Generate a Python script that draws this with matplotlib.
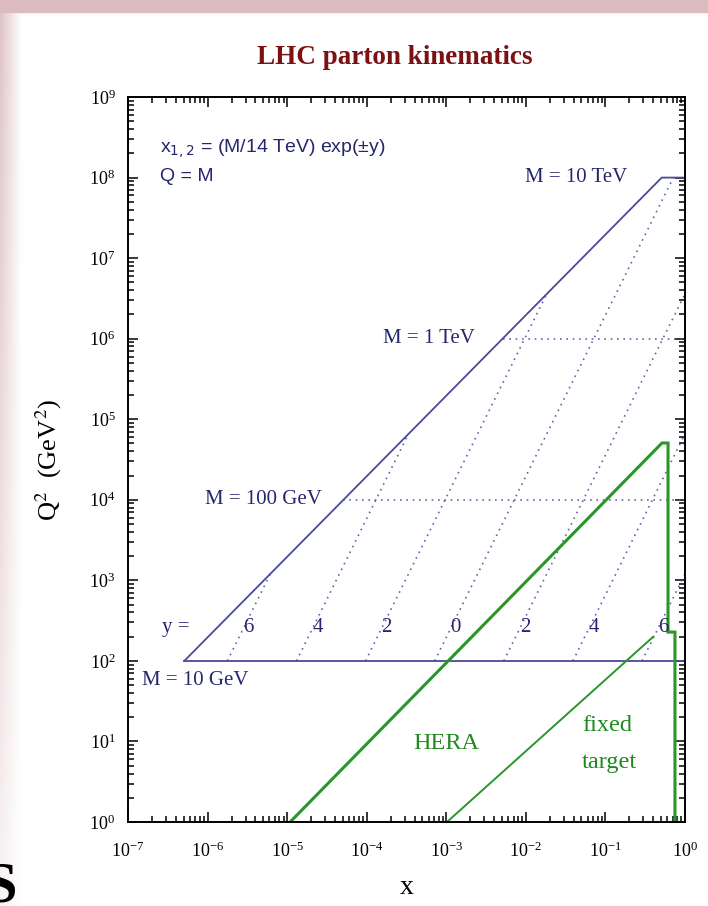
import numpy as np
import matplotlib
matplotlib.use("Agg")
import matplotlib.pyplot as plt
from matplotlib.patches import Rectangle
from matplotlib.ticker import LogLocator, NullFormatter


# ==========================================================
# DATA
# ==========================================================

# LHC (14 TeV) kinematic edge: Q^2 = x s, capped at M = 10 TeV
lhc_edge_x = [5.1e-7, 0.51, 1.0]
lhc_edge_q2 = [1e2, 1e8, 1e8]

# fixed-mass lines (M = 10 GeV solid, 100 GeV / 1 TeV dotted)
mass_q2 = [1e2, 1e4, 1e6]
mass_xmin = [5.1e-7, 5.1e-5, 5.1e-3]
mass_labels = ["M = 10 GeV", "M = 100 GeV", "M = 1 TeV", "M = 10 TeV"]

# rapidity lines, start at M = 10 GeV, end at the kinematic edge
rap_labels = ["6", "4", "2", "0", "2", "4", "6"]
rap_x0 = [1.77e-6, 1.31e-5, 9.67e-5, 7.14e-4, 5.28e-3, 3.90e-2, 0.288]
rap_q0 = [1e2, 1e2, 1e2, 1e2, 1e2, 1e2, 1e2]
rap_x1 = [6.14e-6, 3.35e-4, 1.83e-2, 0.714, 1.0, 1.0, 1.0]
rap_q1 = [1.2e3, 6.6e4, 3.6e6, 1e8, 3.6e6, 6.6e4, 1.2e3]

# HERA region outline
hera_x = [1.09e-5, 0.514, 0.612, 0.612, 0.748, 0.748]
hera_q2 = [1.0, 5.07e4, 5.07e4, 228, 228, 1.0]

# fixed target line
ft_x = [1.02e-3, 0.40]
ft_q2 = [1.0, 200]

NAVY = "#4a4a9c"
NAVY_TXT = "#26266e"
GREEN = "#2a962a"
GREEN_TXT = "#1f8a1f"
TITLE_RED = "#7b1113"

plt.rcParams["font.family"] = ["Liberation Serif", "DejaVu Serif"]
plt.rcParams["mathtext.fontset"] = "stix"


def label_x(i, q2=10 ** 2.41):
    # x position of rapidity line i at a given Q^2
    lx0, lx1 = np.log10(rap_x0[i]), np.log10(rap_x1[i])
    lq0, lq1 = np.log10(rap_q0[i]), np.log10(rap_q1[i])
    return 10 ** (lx0 + (np.log10(q2) - lq0) * (lx1 - lx0) / (lq1 - lq0))


def main():
    fig = plt.figure(figsize=(7.08, 9.06), dpi=100)

    # slide decoration: pink top band and fading left strip
    fig.patches.append(Rectangle((0, 0.987), 1, 0.013, transform=fig.transFigure,
                                 color="#dcbcbf", zorder=0))
    strip = fig.add_axes([0, 0, 0.03, 0.987], zorder=0)
    grad = np.linspace(0, 1, 60)[None, :] * np.ones((100, 1))
    fade = np.linspace(0.9, 0.2, 100)[:, None]
    rgb = np.ones((100, 60, 3))
    pink = np.array([0.86, 0.74, 0.75])
    a = ((1 - grad) * fade)[..., None]
    rgb = rgb * (1 - a) + pink * a
    strip.imshow(rgb, aspect="auto", extent=[0, 1, 0, 1])
    strip.axis("off")
    fig.text(-0.022, -0.008, "S", fontsize=42, color="black", fontweight="bold",
             ha="left", va="bottom")

    ax = fig.add_axes([0.1808, 0.0927, 0.7867, 0.8002])
    ax.set_xscale("log")
    ax.set_yscale("log")
    ax.set_xlim(1e-7, 1)
    ax.set_ylim(1, 1e9)

    # LHC lines
    ax.plot(lhc_edge_x, lhc_edge_q2, color=NAVY, lw=1.3)
    ax.plot([mass_xmin[0], 1.0], [mass_q2[0]] * 2, color=NAVY, lw=1.3)
    for xm, q in zip(mass_xmin[1:], mass_q2[1:]):
        ax.plot([xm, 1.0], [q, q], color=NAVY, lw=1.2, ls=(0, (1, 2.8)), alpha=0.85)
    for i in range(len(rap_labels)):
        ax.plot([rap_x0[i], rap_x1[i]], [rap_q0[i], rap_q1[i]],
                color=NAVY, lw=1.2, ls=(0, (1, 2.8)), alpha=0.85)
        ax.text(label_x(i) * 1.15, 10 ** 2.41, rap_labels[i], color=NAVY_TXT,
                fontsize=15, ha="center", va="center")

    # HERA and fixed target
    ax.plot(hera_x, hera_q2, color=GREEN, lw=2.2, solid_joinstyle="miter")
    ax.plot(ft_x, ft_q2, color=GREEN, lw=1.4)

    # text labels
    ax.text(0.057, 0.929, r"x$_{1,2}$ = (M/14 TeV) exp(±y)", transform=ax.transAxes,
            family=["Liberation Sans", "DejaVu Sans"], math_fontfamily="dejavusans",
            fontsize=14, color=NAVY_TXT, va="center")
    ax.text(0.057, 0.890, "Q = M", transform=ax.transAxes,
            family=["Liberation Sans", "DejaVu Sans"],
            fontsize=14, color=NAVY_TXT, va="center")
    ax.text(0.187, 1e8, mass_labels[3], fontsize=15, color=NAVY_TXT,
            ha="right", va="center")
    ax.text(2.3e-3, 1e6, mass_labels[2], fontsize=15, color=NAVY_TXT,
            ha="right", va="center")
    ax.text(2.74e-5, 1e4, mass_labels[1], fontsize=15, color=NAVY_TXT,
            ha="right", va="center")
    ax.text(1.5e-7, 10 ** 1.76, mass_labels[0], fontsize=15, color=NAVY_TXT,
            ha="left", va="center")
    ax.text(2.7e-7, 10 ** 2.41, "y =", fontsize=15, color=NAVY_TXT,
            ha="left", va="center")
    ax.text(3.8e-4, 10 ** 0.98, "HERA", fontsize=17.5, color=GREEN_TXT,
            ha="left", va="center")
    ax.text(0.0508, 10 ** 1.20, "fixed", fontsize=17.5, color=GREEN_TXT,
            ha="left", va="center")
    ax.text(0.0508, 10 ** 0.74, "target", fontsize=17.5, color=GREEN_TXT,
            ha="left", va="center")

    # ticks, in on all sides
    for axis in (ax.xaxis, ax.yaxis):
        axis.set_major_locator(LogLocator(base=10, numticks=12))
        axis.set_minor_locator(LogLocator(base=10, subs=np.arange(2, 10), numticks=12))
        axis.set_minor_formatter(NullFormatter())
    ax.tick_params(which="both", direction="in", top=True, right=True, width=1.1)
    ax.tick_params(which="major", length=7, labelsize=13)
    ax.tick_params(which="minor", length=4)
    ax.tick_params(axis="x", which="major", pad=14)
    ax.tick_params(axis="y", which="major", pad=9)
    for sp in ax.spines.values():
        sp.set_linewidth(1.4)

    ax.set_xlabel("x", fontsize=20, labelpad=10)
    ax.set_ylabel(r"Q$^2$  (GeV$^2$)", fontsize=19, labelpad=18)
    fig.text(0.558, 0.937, "LHC parton kinematics", fontsize=19.5, fontweight="bold",
             color=TITLE_RED, ha="center", va="center")

    fig.savefig("out.png", dpi=100)
    plt.close(fig)


if __name__ == "__main__":
    main()
